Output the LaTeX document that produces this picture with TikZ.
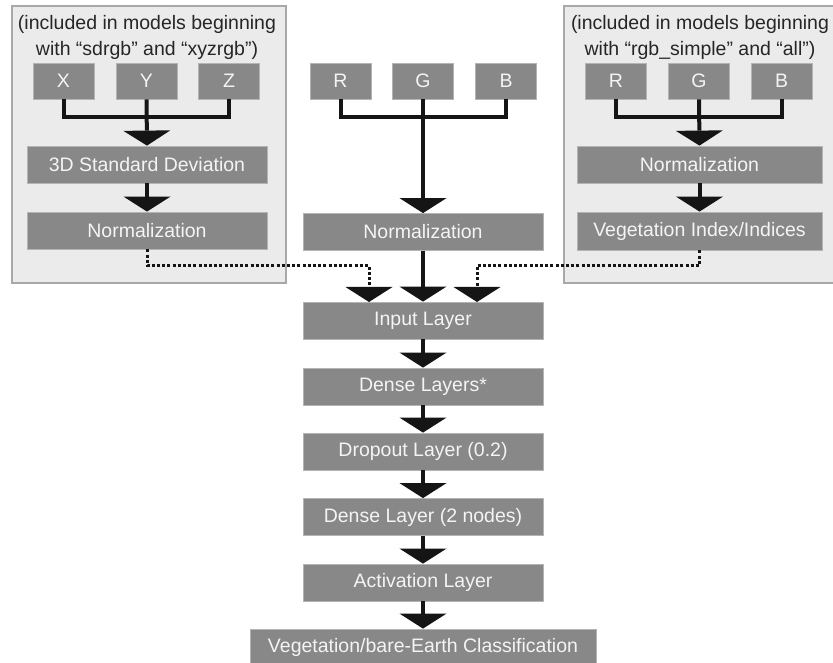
\documentclass[tikz,border=0pt]{standalone}
\usepackage{fontspec}
\setmainfont{Liberation Sans}
\usetikzlibrary{arrows.meta}
\definecolor{boxgray}{HTML}{888888}
\definecolor{boxedge}{HTML}{B4B4B4}
\definecolor{panelfill}{HTML}{EBEBEB}
\definecolor{paneledge}{HTML}{A8A8A8}
\definecolor{arrowblack}{HTML}{151515}
\definecolor{boxtext}{HTML}{F4F4F4}
\newcommand{\diafont}{\fontsize{19.5}{26}\selectfont}
\tikzset{
  box/.style={fill=boxgray, draw=boxedge, line width=0.8pt, text=boxtext, inner sep=0pt, minimum height=37pt, font=\diafont},
  smallbox/.style={box, minimum width=61pt, minimum height=36pt},
  widebox/.style={box, minimum width=240pt},
  panel/.style={fill=panelfill, draw=paneledge, line width=1.2pt},
  conn/.style={draw=arrowblack, line width=4pt, line join=miter},
  arr/.style={conn, -{Triangle[width=47pt,length=15pt,line width=0pt]}},
  dotarr/.style={draw=arrowblack, line width=3pt, dash pattern=on 3pt off 2.2pt, -{Triangle[width=47pt,length=15pt,line width=0pt]}},
  paneltitle/.style={align=center, font=\diafont, text=black!85, inner sep=0pt}
}
\begin{document}
\begin{tikzpicture}[x=1pt,y=-1pt]
\useasboundingbox (0,0) rectangle (833,663);
\fill[white] (0,0) rectangle (833,663);
% panels
\draw[panel] (12,6) rectangle (286,283);
\draw[panel] (564,6) rectangle (840,283);
\node[paneltitle] (tl) at (147,37) {(included in models beginning\\with “sdrgb” and “xyzrgb”)};
\node[paneltitle] (tr) at (700,37) {(included in models beginning\\with “rgb\_simple” and “all”)};
% left panel
\node[smallbox] (X) at (63.5,81) {X};
\node[smallbox] (Y) at (146.5,81) {Y};
\node[smallbox] (Z) at (229,81) {Z};
\node[widebox] (sd) at (147,164.5) {3D Standard Deviation};
\node[widebox] (lnorm) at (147,230.5) {Normalization};
\coordinate (jl) at (146.5,117);
\draw[conn] (X.south) |- (jl) -| (Z.south);
\draw[arr] (Y.south) -- (sd.north);
\draw[arr] (sd.south) -- (lnorm.north);
% middle
\node[smallbox] (R) at (340.5,81) {R};
\node[smallbox] (G) at (423,81) {G};
\node[smallbox] (B) at (506,81) {B};
\node[widebox] (mnorm) at (423,232) {Normalization};
\coordinate (jm) at (423,117);
\draw[conn] (R.south) |- (jm) -| (B.south);
\draw[arr] (G.south) -- (mnorm.north);
% right panel
\node[smallbox] (R2) at (616,81) {R};
\node[smallbox] (G2) at (699,81) {G};
\node[smallbox] (B2) at (781.5,81) {B};
\node[box, minimum width=245pt] (rnorm) at (699.5,164.5) {Normalization};
\node[box, minimum width=245pt, minimum height=38pt] (vi) at (699.5,231) {Vegetation Index/Indices};
\coordinate (jr) at (699,117);
\draw[conn] (R2.south) |- (jr) -| (B2.south);
\draw[arr] (G2.south) -- (rnorm.north);
\draw[arr] (rnorm.south) -- (vi.north);
% main column
\node[widebox] (inp) at (423,320.5) {Input Layer};
\node[widebox] (dense) at (423,386.5) {Dense Layers*};
\node[widebox] (drop) at (423,451.5) {Dropout Layer (0.2)};
\node[widebox] (dense2) at (423,517) {Dense Layer (2 nodes)};
\node[widebox] (act) at (423,582.5) {Activation Layer};
\node[box, minimum width=346pt, minimum height=36pt] (cls) at (423,647) {Vegetation/bare-Earth Classification};
\coordinate (dl) at (369,265.5);
\coordinate (inL) at (369,302);
\coordinate (dr) at (477,265.5);
\coordinate (inR) at (477,302);
\draw[dotarr] (lnorm.south) |- (dl) -- (inL);
\draw[dotarr] (vi.south) |- (dr) -- (inR);
\draw[arr] (mnorm.south) -- (inp.north);
\draw[arr] (inp.south) -- (dense.north);
\draw[arr] (dense.south) -- (drop.north);
\draw[arr] (drop.south) -- (dense2.north);
\draw[arr] (dense2.south) -- (act.north);
\draw[arr] (act.south) -- (cls.north);
\end{tikzpicture}
\end{document}
